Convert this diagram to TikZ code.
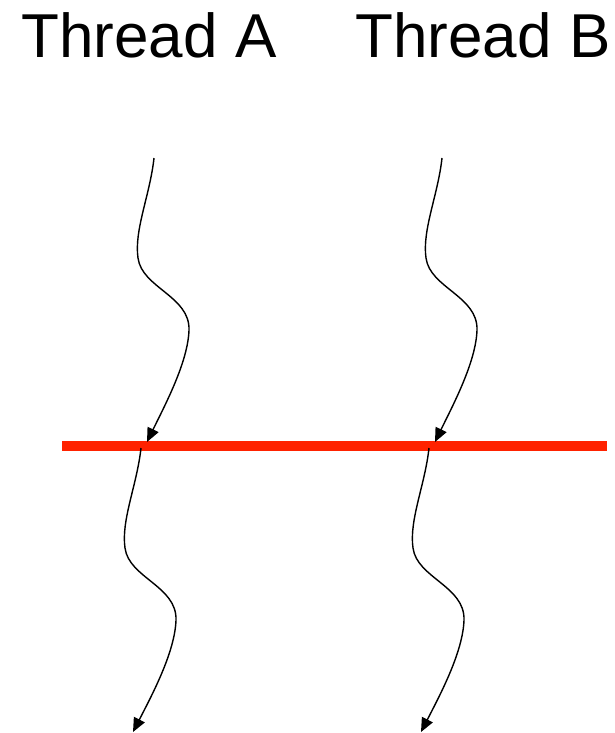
\documentclass[tikz,border=0pt]{standalone}
\usepackage{fontspec}
\setmainfont{Liberation Sans}
\usepackage{tikz}
\usetikzlibrary{arrows.meta}
\definecolor{barrierred}{HTML}{FF2200}

\begin{document}
\begin{tikzpicture}[x=1pt,y=-1pt,
  lbl/.style={anchor=base,inner sep=0pt,font=\fontsize{62}{70}\selectfont},
  thr/.style={line width=1.4pt,-{Triangle[length=14pt,width=12pt]}},
  bar/.style={barrierred,line width=10pt}
]
\useasboundingbox (0,0) rectangle (614,733);

\node[lbl] (ta) at (149,58) {Thread A};
\node[lbl] (tb) at (483,58) {Thread B};

% barrier
\coordinate (r0) at (62,446);
\coordinate (r1) at (607,446);
\draw[bar] (r0) -- (r1);

% thread A
\coordinate (a0) at (154,158);
\coordinate (a1) at (147,442);
\coordinate (a2) at (141,448);
\coordinate (a3) at (133,732);
\draw[thr] (a0) .. controls (150,195) and (134,230) .. (138,258)
  .. controls (142,288) and (190,296) .. (189,330)
  .. controls (188,362) and (165,405) .. (a1);
\draw[thr] (a2) .. controls (137,485) and (121,520) .. (125,548)
  .. controls (129,578) and (177,586) .. (176,620)
  .. controls (175,652) and (152,695) .. (a3);

% thread B
\coordinate (b0) at (442,158);
\coordinate (b1) at (435,442);
\coordinate (b2) at (429,448);
\coordinate (b3) at (421,732);
\draw[thr] (b0) .. controls (438,195) and (422,230) .. (426,258)
  .. controls (430,288) and (478,296) .. (477,330)
  .. controls (476,362) and (453,405) .. (b1);
\draw[thr] (b2) .. controls (425,485) and (409,520) .. (413,548)
  .. controls (417,578) and (465,586) .. (464,620)
  .. controls (463,652) and (440,695) .. (b3);
\end{tikzpicture}
\end{document}
